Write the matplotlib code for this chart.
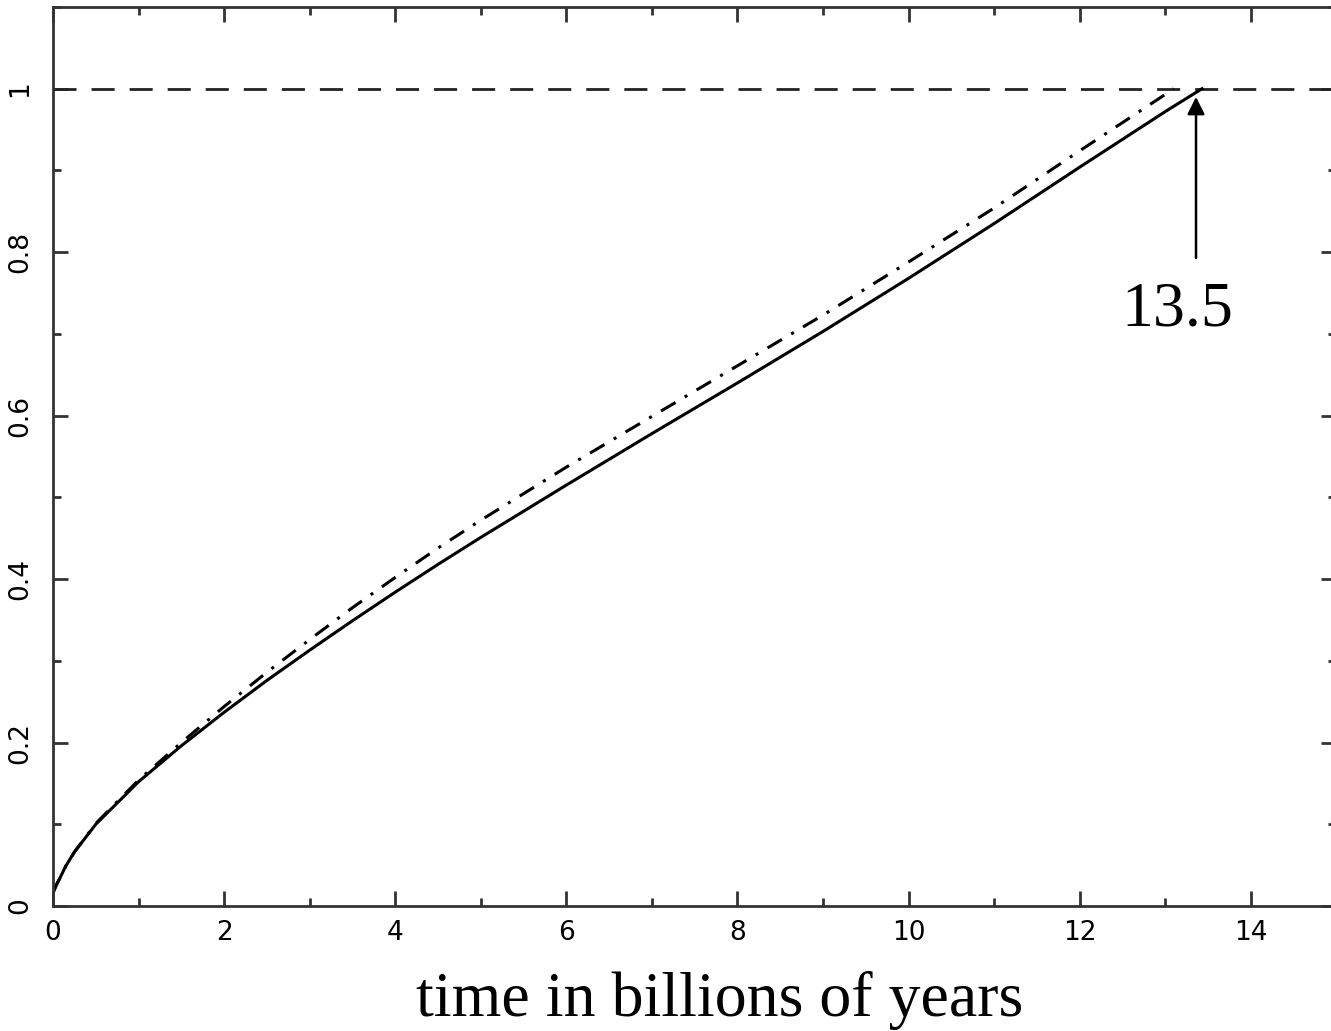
import matplotlib
matplotlib.use('Agg')
import matplotlib.pyplot as plt
from matplotlib.ticker import MultipleLocator

# solid curve
t_solid = [0, 0.04, 0.08, 0.15, 0.25, 0.5, 1.0, 1.5, 2.0, 2.5, 3.0, 3.5, 4.0, 4.5,
           5.0, 6.0, 7.0, 8.0, 9.0, 10.0, 11.0, 12.0, 13.0, 13.43]
y_solid = [0.016, 0.026, 0.034, 0.049, 0.066, 0.100, 0.152, 0.196, 0.237, 0.276,
           0.313, 0.349, 0.384, 0.418, 0.451, 0.515, 0.578, 0.640, 0.703, 0.768,
           0.835, 0.904, 0.972, 1.0]

# dash-dot curve
t_dd = [0, 0.04, 0.08, 0.15, 0.25, 0.5, 1.0, 1.5, 2.0, 2.5, 3.0, 3.5, 4.0, 4.5,
        5.0, 6.0, 7.0, 8.0, 9.0, 10.0, 11.0, 12.0, 13.0, 13.1]
y_dd = [0.016, 0.026, 0.034, 0.049, 0.066, 0.101, 0.154, 0.200, 0.244, 0.286,
        0.326, 0.365, 0.402, 0.438, 0.472, 0.537, 0.599, 0.661, 0.723, 0.788,
        0.854, 0.924, 0.993, 1.0]

age = 13.36
age_label = '13.5'
xticks = [0, 2, 4, 6, 8, 10, 12, 14]
yticks = [0, 0.2, 0.4, 0.6, 0.8, 1]
ylabels = ['0', '0.2', '0.4', '0.6', '0.8', '1']

fig = plt.figure(figsize=(13.31, 10.31), dpi=100)
ax = fig.add_axes([53 / 1331, 1 - 906 / 1031, 1.004 - 53 / 1331, (906 - 7) / 1031])

ax.axhline(1.0, color='#222222', lw=2, linestyle=(0, (8.3, 5.4)))
ax.plot(t_dd, y_dd, color='black', lw=2.2, linestyle=(0, (5.5, 3.5, 1, 3.5)))
ax.plot(t_solid, y_solid, color='black', lw=2.2)

ax.annotate('', xy=(age, 0.99), xytext=(age, 0.793),
            arrowprops=dict(arrowstyle='-|>', lw=1.8, color='black',
                            mutation_scale=26, shrinkA=0, shrinkB=0))
ax.text(13.14, 0.7285, age_label, fontsize=46, family='Liberation Serif',
        ha='center', va='center')

ax.set_xlim(0, 15.0)
ax.set_ylim(0, 1.1)
ax.set_xticks(xticks)
ax.set_yticks(yticks)
ax.set_yticklabels(ylabels, rotation=90, va='center')
ax.xaxis.set_minor_locator(MultipleLocator(1))
ax.yaxis.set_minor_locator(MultipleLocator(0.1))
ax.tick_params(which='both', direction='in', top=True, right=True,
               color='#333333', width=2, labelsize=19)
ax.tick_params(which='major', length=11)
ax.tick_params(which='minor', length=5.5)
ax.tick_params(axis='x', pad=10)
ax.tick_params(axis='y', pad=14)
for s in ax.spines.values():
    s.set_linewidth(2)
    s.set_color('#333333')

fig.text(720 / 1331, 1 - 1000 / 1031, 'time in billions of years', fontsize=46,
         family='Liberation Serif', ha='center', va='center')

fig.savefig('out.png', dpi=100)
